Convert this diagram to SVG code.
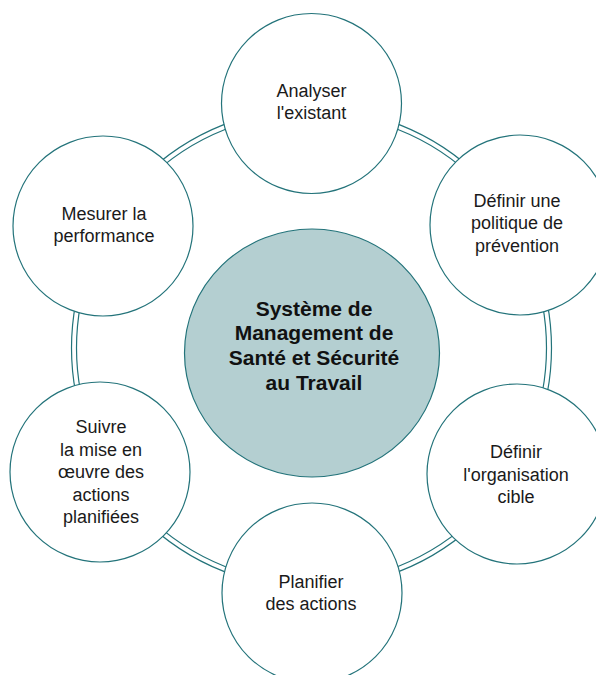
<svg xmlns="http://www.w3.org/2000/svg" width="596" height="675" viewBox="0 0 596 675">
<style>
.ring{fill:none;stroke:#23737a;stroke-width:1.2}
.node{fill:#ffffff;stroke:#23737a;stroke-width:1.2}
.center{fill:#b4cfd1;stroke:#23737a;stroke-width:1.2}
.t{font-family:"Liberation Sans",Arial,sans-serif;font-size:18px;fill:#1a1a1a;text-anchor:middle}
.tb{font-family:"Liberation Sans",Arial,sans-serif;font-size:21px;font-weight:bold;fill:#111111;text-anchor:middle}
</style>
<rect width="596" height="675" fill="#ffffff"/>
<g id="connectors">
<circle class="ring" cx="311.5" cy="348" r="240"/>
<circle class="ring" cx="311.5" cy="348" r="235"/>
</g>
<g id="center">
<ellipse class="center" cx="312" cy="353" rx="127.5" ry="124"/>
<text class="tb" x="314" y="315.5">Système de</text>
<text class="tb" x="314" y="340.3">Management de</text>
<text class="tb" x="314" y="365">Santé et Sécurité</text>
<text class="tb" x="314" y="389.8">au Travail</text>
</g>
<g id="analyser">
<circle class="node" cx="311.5" cy="103.5" r="90"/>
<text class="t" x="311.5" y="96.7">Analyser</text>
<text class="t" x="311.5" y="118.5">l'existant</text>
</g>
<g id="definir-politique">
<circle class="node" cx="520" cy="225" r="90"/>
<text class="t" x="517" y="206.5">Définir une</text>
<text class="t" x="517" y="229">politique de</text>
<text class="t" x="517" y="251.5">prévention</text>
</g>
<g id="definir-organisation">
<circle class="node" cx="517" cy="474" r="90"/>
<text class="t" x="516" y="458">Définir</text>
<text class="t" x="516" y="480.5">l'organisation</text>
<text class="t" x="516" y="503">cible</text>
</g>
<g id="planifier">
<circle class="node" cx="312" cy="593" r="90"/>
<text class="t" x="311" y="588">Planifier</text>
<text class="t" x="311" y="610">des actions</text>
</g>
<g id="suivre">
<circle class="node" cx="100" cy="472" r="90"/>
<text class="t" x="101" y="433">Suivre</text>
<text class="t" x="101" y="455.5">la mise en</text>
<text class="t" x="101" y="478">œuvre des</text>
<text class="t" x="101" y="500.5">actions</text>
<text class="t" x="101" y="523">planifiées</text>
</g>
<g id="mesurer">
<circle class="node" cx="103" cy="226" r="90"/>
<text class="t" x="104" y="219.5">Mesurer la</text>
<text class="t" x="104" y="242">performance</text>
</g>
</svg>
